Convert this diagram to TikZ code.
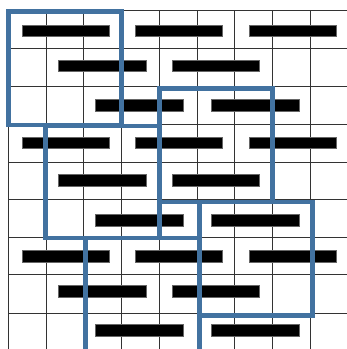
\documentclass[tikz,border=0pt]{standalone}
\definecolor{sqblue}{RGB}{66,114,160}
\begin{document}
\begin{tikzpicture}[x=1pt,y=-1pt,
  gridline/.style={draw=black!80,line width=0.9pt},
  bar/.style={fill=black,draw=black!60,line width=0.4pt},
  sq/.style={draw=sqblue,line width=4.7pt}]
\useasboundingbox (0,0) rectangle (347,349);
\clip (0,0) rectangle (347,349);
% grid
\foreach \x in {8,46,83.5,121.7,159.5,197,234.7,272.7,310.7}
  \draw[gridline] (\x,10) -- (\x,360);
\foreach \y in {10,48.2,86,124,162.2,199.8,237.4,274.8,313.3}
  \draw[gridline] (8,\y) -- (360,\y);
% bars
\foreach \yc in {30.8,142.8,256}
  \foreach \xa/\xb in {22/109,135/222.5,249/336}
    \path[bar] (\xa,\yc-5.85) rectangle (\xb,\yc+5.85);
\foreach \yc in {65.8,180,291}
  \foreach \xa/\xb in {58/146,172/259}
    \path[bar] (\xa,\yc-5.85) rectangle (\xb,\yc+5.85);
\foreach \yc in {105,220,330.5}
  \foreach \xa/\xb in {95/183,211/299}
    \path[bar] (\xa,\yc-5.85) rectangle (\xb,\yc+5.85);
% blue squares
\draw[sq] (8.5,11.5) rectangle (121.8,125);
\draw[sq] (45.5,126) rectangle (159.5,238);
\draw[sq] (159.5,88.5) rectangle (272.5,202);
\draw[sq] (199.5,202) rectangle (312.5,315.5);
\draw[sq] (85.5,238) rectangle (199.5,380);
\end{tikzpicture}
\end{document}
